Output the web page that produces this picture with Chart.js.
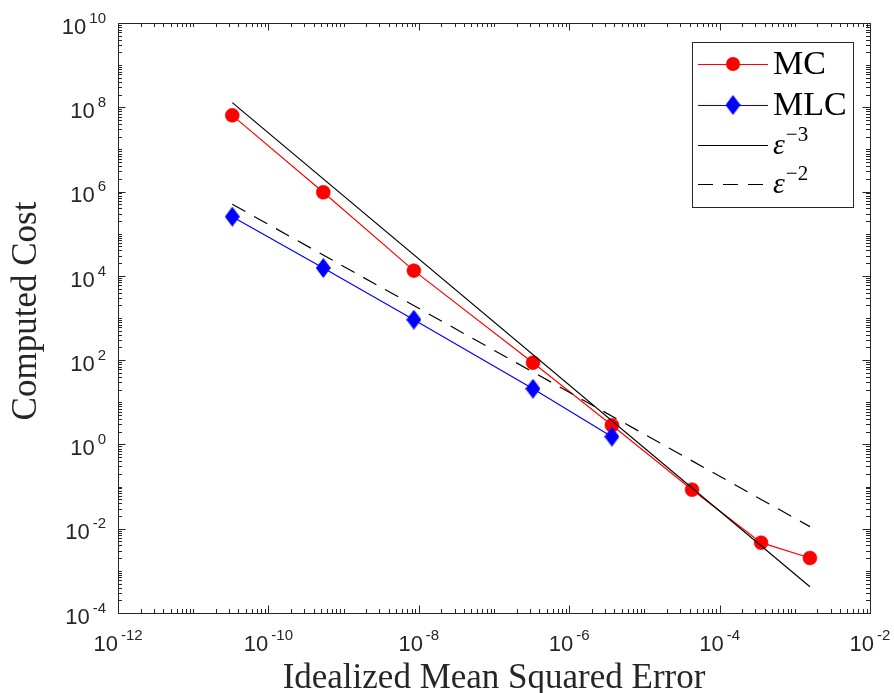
<!DOCTYPE html>
<html lang="en">
<head>
<meta charset="UTF-8">
<title>Computed Cost vs Idealized Mean Squared Error</title>
<script src="https://cdn.jsdelivr.net/npm/chart.js"></script>
<style>
    body { margin: 0; background: #ffffff; }
    .plot-box { position: relative; width: 894px; height: 693px; }
</style>
</head>
<body>
<div class="plot-box"><canvas id="plot"></canvas></div>
<script>
// Monte Carlo runs
const mcError = [3.31e-11, 5.37e-10, 8.6e-9, 3.3e-7, 3.7e-6, 4.3e-5, 3.56e-4, 1.59e-3];
const mcCost = [6.43e7, 9.6e5, 1.33e4, 87, 2.86, 0.0843, 4.66e-3, 2.02e-3];

// Multilevel runs
const mlcError = [3.31e-11, 5.37e-10, 8.6e-9, 3.3e-7, 3.7e-6];
const mlcCost = [2.54e5, 1.54e4, 912, 21.0, 1.53];

// reference slopes, end points only
const eps3Error = [3.31e-11, 1.59e-3];
const eps3Cost = [1.29e8, 4.2e-4];
const eps2Error = [3.31e-11, 1.59e-3];
const eps2Cost = [5.0e5, 1.12e-2];

const xTickExps = [-12, -10, -8, -6, -4, -2];
const yTickExps = [-4, -2, 0, 2, 4, 6, 8, 10];
const legendLabels = ['MC', 'MLC', 'ε^−3', 'ε^−2'];

const axisColor = '#262626';
const serif = '"Liberation Serif", "Times New Roman", serif';
const sans = '"Liberation Sans", Arial, sans-serif';

function toPoints(xs, ys) {
    return xs.map((x, i) => ({ x: x, y: ys[i] }));
}

// tall diamond marker
const diamond = document.createElement('canvas');
diamond.width = 15;
diamond.height = 20;
(function () {
    const c = diamond.getContext('2d');
    c.fillStyle = '#0000ff';
    c.beginPath();
    c.moveTo(7.5, 0);
    c.lineTo(15, 10);
    c.lineTo(7.5, 20);
    c.lineTo(0, 10);
    c.closePath();
    c.fill();
})();

function drawMarker(ctx, ds, px, py) {
    if (ds.pointStyle === 'circle') {
        ctx.fillStyle = ds.pointBackgroundColor;
        ctx.beginPath();
        ctx.arc(px, py, ds.pointRadius, 0, Math.PI * 2);
        ctx.fill();
    } else if (ds.pointStyle instanceof HTMLCanvasElement) {
        ctx.drawImage(ds.pointStyle, px - ds.pointStyle.width / 2, py - ds.pointStyle.height / 2);
    }
}

function drawPowerLabel(ctx, base, sup, x, y, baseFont, supFont, rise, align) {
    ctx.font = baseFont;
    const wb = ctx.measureText(base).width;
    ctx.font = supFont;
    const ws = ctx.measureText(sup).width;
    const gap = 3;
    let left = x;
    if (align === 'center') left = x - (wb + gap + ws) / 2;
    if (align === 'right') left = x - (wb + gap + ws);
    ctx.textAlign = 'left';
    ctx.font = baseFont;
    ctx.fillText(base, left, y);
    ctx.font = supFont;
    ctx.fillText(sup, left + wb + gap, y - rise);
}

const axesFrame = {
    id: 'axesFrame',
    afterDraw(chart) {
        const { ctx, chartArea: a, scales: { x, y } } = chart;
        ctx.save();
        ctx.strokeStyle = axisColor;
        ctx.fillStyle = axisColor;
        ctx.lineWidth = 1;
        ctx.strokeRect(a.left + 0.5, a.top + 0.5, a.right - a.left, a.bottom - a.top);

        // inward ticks on all four sides
        ctx.beginPath();
        for (let e = xTickExps[0]; e < xTickExps[xTickExps.length - 1]; e++) {
            for (let m = 1; m <= 9; m++) {
                const px = Math.round(x.getPixelForValue(m * Math.pow(10, e))) + 0.5;
                const len = (m === 1 && xTickExps.includes(e)) ? 7.5 : 4;
                ctx.moveTo(px, a.bottom); ctx.lineTo(px, a.bottom - len);
                ctx.moveTo(px, a.top); ctx.lineTo(px, a.top + len);
            }
        }
        for (let e = yTickExps[0]; e < yTickExps[yTickExps.length - 1]; e++) {
            for (let m = 1; m <= 9; m++) {
                const py = Math.round(y.getPixelForValue(m * Math.pow(10, e))) + 0.5;
                const len = (m === 1 && yTickExps.includes(e)) ? 7.5 : 4;
                ctx.moveTo(a.left, py); ctx.lineTo(a.left + len, py);
                ctx.moveTo(a.right, py); ctx.lineTo(a.right - len, py);
            }
        }
        ctx.stroke();

        // tick labels
        ctx.textBaseline = 'alphabetic';
        xTickExps.forEach(e => {
            const px = x.getPixelForValue(Math.pow(10, e));
            drawPowerLabel(ctx, '10', String(e), px, a.bottom + 38, '22px ' + sans, '15px ' + sans, 11.5, 'center');
        });
        yTickExps.forEach(e => {
            const py = y.getPixelForValue(Math.pow(10, e));
            drawPowerLabel(ctx, '10', String(e), 106, py + 10.7, '22px ' + sans, '15px ' + sans, 11, 'right');
        });

        // axis titles
        ctx.font = '35px ' + serif;
        ctx.textAlign = 'center';
        ctx.fillText('Idealized Mean Squared Error', (a.left + a.right) / 2, 688);
        ctx.save();
        ctx.translate(36, 311);
        ctx.rotate(-Math.PI / 2);
        ctx.fillText('Computed Cost', 0, 0);
        ctx.restore();

        // legend
        const box = { left: 692, top: 42, width: 161, height: 165 };
        ctx.fillStyle = '#ffffff';
        ctx.fillRect(box.left, box.top, box.width, box.height);
        ctx.strokeStyle = axisColor;
        ctx.strokeRect(box.left + 0.5, box.top + 0.5, box.width, box.height);
        const rows = [64, 105, 145, 184];
        chart.data.datasets.forEach((ds, i) => {
            const ry = rows[i];
            ctx.save();
            ctx.strokeStyle = ds.borderColor;
            ctx.lineWidth = ds.borderWidth;
            ctx.setLineDash(ds.borderDash || []);
            ctx.beginPath();
            ctx.moveTo(698, ry + 0.5);
            ctx.lineTo(768, ry + 0.5);
            ctx.stroke();
            ctx.restore();
            drawMarker(ctx, ds, 733, ry);
            ctx.fillStyle = '#000000';
            const parts = ds.label.split('^');
            if (parts.length === 1) {
                ctx.font = '34px ' + serif;
                ctx.textAlign = 'left';
                ctx.fillText(parts[0], 773, ry + 9.5);
            } else {
                ctx.font = 'italic 30px ' + serif;
                ctx.textAlign = 'left';
                ctx.fillText(parts[0], 773, ry + 8.5);
                const w = ctx.measureText(parts[0]).width;
                ctx.font = '21px ' + serif;
                ctx.fillText(parts[1], 773 + w + 1, ry - 4);
            }
        });
        ctx.restore();
    }
};

const ctx = document.getElementById('plot').getContext('2d');
new Chart(ctx, {
    type: 'line',
    data: {
        datasets: [
            {
                label: legendLabels[0],
                data: toPoints(mcError, mcCost),
                borderColor: '#ff0000',
                borderWidth: 1.2,
                pointStyle: 'circle',
                pointRadius: 7,
                pointBackgroundColor: '#ff0000',
                pointBorderColor: '#ff0000',
                pointBorderWidth: 0.5,
                order: 4
            },
            {
                label: legendLabels[1],
                data: toPoints(mlcError, mlcCost),
                borderColor: '#0000ff',
                borderWidth: 1.2,
                pointStyle: diamond,
                pointRadius: 7,
                order: 3
            },
            {
                label: legendLabels[2],
                data: toPoints(eps3Error, eps3Cost),
                borderColor: '#000000',
                borderWidth: 1.2,
                pointRadius: 0,
                order: 2
            },
            {
                label: legendLabels[3],
                data: toPoints(eps2Error, eps2Cost),
                borderColor: '#000000',
                borderWidth: 1.2,
                borderDash: [15, 10],
                pointRadius: 0,
                order: 1
            }
        ]
    },
    options: {
        responsive: true,
        maintainAspectRatio: false,
        animation: false,
        layout: { padding: { left: 118, top: 23, right: 24, bottom: 80 } },
        plugins: {
            legend: { display: false },
            tooltip: { enabled: false }
        },
        elements: { line: { tension: 0, fill: false } },
        scales: {
            x: { type: 'logarithmic', min: 1e-12, max: 1e-2, display: false },
            y: { type: 'logarithmic', min: 1e-4, max: 1e10, display: false }
        }
    },
    plugins: [axesFrame]
});
</script>
</body>
</html>
